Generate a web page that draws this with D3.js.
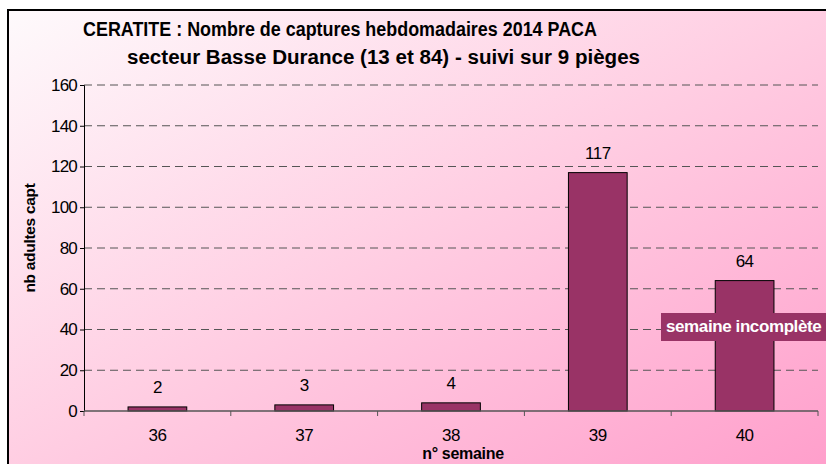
<!DOCTYPE html>
<html>
<head>
<meta charset="utf-8">
<script src="https://cdn.jsdelivr.net/npm/d3@7"></script>
<style>
  body { margin: 0; background: #fff; }
  svg { display: block; }
</style>
</head>
<body>
<div id="chart"></div>
<script>
const weeks  = ['36', '37', '38', '39', '40'];
const counts = [2, 3, 4, 117, 64];
const yTicks = [0, 20, 40, 60, 80, 100, 120, 140, 160];
const titleLines = [
  'CERATITE : Nombre de captures hebdomadaires 2014 PACA',
  'secteur Basse Durance (13 et 84) - suivi sur 9 pièges'
];

const W = 826, H = 464;
const FONT = 'Liberation Sans, Arial, sans-serif';
const svg = d3.select('#chart').append('svg').attr('width', W).attr('height', H);

// diagonal pink background
const defs = svg.append('defs');
const grad = defs.append('linearGradient').attr('id', 'bg')
  .attr('x1', '0%').attr('y1', '0%').attr('x2', '100%').attr('y2', '100%');
grad.append('stop').attr('offset', '0%').attr('stop-color', '#fefafc');
grad.append('stop').attr('offset', '50%').attr('stop-color', '#ffcde2');
grad.append('stop').attr('offset', '100%').attr('stop-color', '#ff9ecb');

svg.append('rect').attr('x', 8).attr('y', 10).attr('width', W).attr('height', H)
  .attr('fill', 'url(#bg)').attr('stroke', '#000').attr('stroke-width', 2);

const m = { left: 84, right: 8, top: 85, bottom: 53 };
const x = d3.scaleBand().domain(weeks).range([m.left, W - m.right])
  .paddingInner(0.6).paddingOuter(0.3);
const y = d3.scaleLinear().domain([0, 160]).range([H - m.bottom, m.top]);

// gridlines
svg.append('g').selectAll('line').data(yTicks.slice(1)).join('line')
  .attr('x1', m.left).attr('x2', W - m.right)
  .attr('y1', d => y(d)).attr('y2', d => y(d))
  .attr('stroke', '#555').attr('stroke-dasharray', '8,5');

// bars
svg.append('g').selectAll('rect').data(counts).join('rect')
  .attr('x', (d, i) => x(weeks[i])).attr('width', x.bandwidth())
  .attr('y', d => y(d)).attr('height', d => y(0) - y(d))
  .attr('fill', '#993366').attr('stroke', '#000').attr('stroke-width', 1);

// value labels
svg.append('g').selectAll('text').data(counts).join('text')
  .attr('x', (d, i) => x(weeks[i]) + x.bandwidth() / 2)
  .attr('y', d => y(d) - 13.5)
  .attr('text-anchor', 'middle')
  .attr('font-family', FONT).attr('font-size', 17).attr('letter-spacing', -0.5)
  .attr('fill', '#000').text(d => d);

// y axis
const yAxis = svg.append('g').attr('transform', `translate(${m.left},0)`)
  .call(d3.axisLeft(y).tickValues(yTicks).tickSize(4).tickPadding(3));
yAxis.select('.domain').attr('stroke', '#000');
yAxis.selectAll('text').attr('font-family', FONT)
  .attr('font-size', 17).attr('letter-spacing', -0.8).attr('fill', '#000');

// x axis (ticks at category boundaries)
const xAxis = svg.append('g').attr('transform', `translate(0,${y(0)})`);
xAxis.append('line').attr('x1', m.left).attr('x2', W - m.right)
  .attr('stroke', '#555').attr('stroke-width', 1.5);
const step = x.step();
const bounds = d3.range(weeks.length + 1).map(i => m.left + i * step);
xAxis.selectAll('.tk').data(bounds).join('line').attr('class', 'tk')
  .attr('x1', d => d).attr('x2', d => d).attr('y1', 0).attr('y2', 5)
  .attr('stroke', '#555');
xAxis.selectAll('text').data(weeks).join('text')
  .attr('x', d => x(d) + x.bandwidth() / 2).attr('y', 30)
  .attr('text-anchor', 'middle')
  .attr('font-family', FONT).attr('font-size', 17)
  .attr('letter-spacing', -0.5).attr('fill', '#000').text(d => d);

// axis titles
svg.append('text').attr('x', 463).attr('y', 459).attr('text-anchor', 'middle')
  .attr('font-family', FONT).attr('font-size', 16)
  .attr('font-weight', 'bold').attr('letter-spacing', -0.3).text('n° semaine');
svg.append('text').attr('transform', 'translate(35,238) rotate(-90)')
  .attr('text-anchor', 'middle')
  .attr('font-family', FONT).attr('font-size', 15.5)
  .attr('font-weight', 'bold').attr('letter-spacing', -0.3).text('nb adultes capt');

// title, two lines squeezed to the original widths
const titlePos = [{ x: 83, y: 36, len: 514 }, { x: 127, y: 64, len: 513 }];
svg.append('g').selectAll('text').data(titleLines).join('text')
  .attr('x', (d, i) => titlePos[i].x).attr('y', (d, i) => titlePos[i].y)
  .attr('textLength', (d, i) => titlePos[i].len)
  .attr('lengthAdjust', 'spacingAndGlyphs')
  .attr('font-family', FONT).attr('font-size', 20)
  .attr('font-weight', 'bold').attr('fill', '#000').text(d => d);

// annotation
svg.append('rect').attr('x', 661).attr('y', 313).attr('width', 180).attr('height', 28)
  .attr('fill', '#993366');
svg.append('text').attr('x', 666).attr('y', 332)
  .attr('font-family', FONT).attr('font-size', 17)
  .attr('font-weight', 'bold').attr('letter-spacing', -0.4).attr('fill', '#fff')
  .text('semaine incomplète');
</script>
</body>
</html>
